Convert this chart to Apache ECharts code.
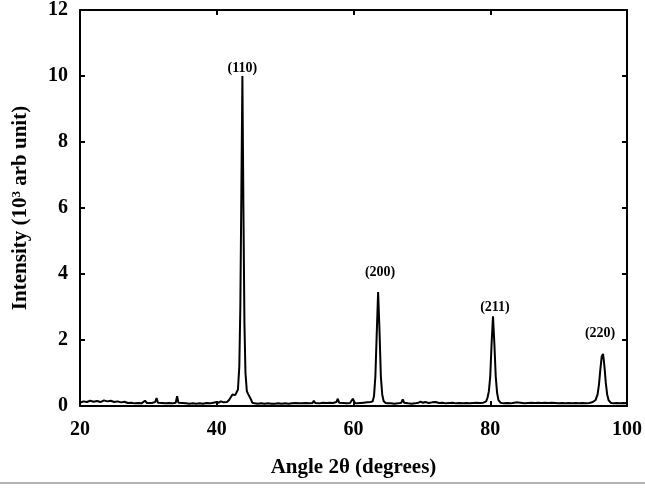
<!DOCTYPE html>
<html>
<head>
	<meta charset="UTF-8">
	<title>XRD pattern</title>
	<script src="https://cdn.jsdelivr.net/npm/echarts@6/dist/echarts.min.js"></script>
	<style>
		html, body { margin: 0; padding: 0; background: #fff; }
		#xrd-chart { width: 645px; height: 489px; }
	</style>
</head>
<body>
<div id="xrd-chart"></div>
<script type="text/javascript">
	// 2theta (degrees)
	var angles = [
		20.0, 20.5, 21.0, 21.5, 22.0, 22.5, 23.0, 23.5, 24.0, 24.5, 25.0, 25.5, 26.0, 26.5, 27.0, 27.5,
		28.0, 28.5, 29.0, 29.5, 29.8, 30.0, 30.5, 31.0, 31.2, 31.4, 32.0, 32.5, 33.0, 33.5, 34.0, 34.2,
		34.4, 35.0, 35.5, 36.0, 36.5, 37.0, 37.5, 38.0, 38.5, 39.0, 39.5, 40.0, 40.3, 40.6, 41.0, 41.5,
		41.8, 42.0, 42.3, 42.5, 42.7, 42.9, 43.1, 43.3, 43.45, 43.6, 43.75, 43.9, 44.05, 44.2, 44.4, 44.6,
		44.8, 45.0, 45.2, 45.5, 46.0, 46.5, 47.0, 47.5, 48.0, 48.5, 49.0, 49.5, 50.0, 50.5, 51.0, 51.5,
		52.0, 52.5, 53.0, 53.5, 54.0, 54.2, 54.4, 55.0, 55.5, 56.0, 56.5, 57.0, 57.5, 57.7, 57.9, 58.5,
		59.0, 59.5, 59.9, 60.2, 60.5, 61.0, 61.5, 62.0, 62.2, 62.5, 62.8, 63.0, 63.2, 63.4, 63.6, 63.8,
		64.0, 64.2, 64.4, 64.7, 65.0, 65.5, 66.0, 66.5, 67.0, 67.2, 67.4, 68.0, 68.5, 69.0, 69.5, 69.8,
		70.2, 70.5, 71.0, 71.5, 72.0, 72.5, 73.0, 73.5, 74.0, 74.5, 75.0, 75.5, 76.0, 76.5, 77.0, 77.5,
		78.0, 78.5, 79.0, 79.4, 79.6, 79.8, 80.0, 80.2, 80.4, 80.6, 80.8, 81.0, 81.2, 81.5, 82.0, 82.5,
		83.0, 83.5, 84.0, 84.2, 84.4, 85.0, 85.5, 86.0, 86.5, 87.0, 87.5, 88.0, 88.5, 89.0, 89.5, 90.0,
		90.5, 91.0, 91.5, 92.0, 92.5, 93.0, 93.5, 94.0, 94.5, 95.0, 95.4, 95.7, 95.9, 96.1, 96.3, 96.5,
		96.7, 96.9, 97.1, 97.3, 97.6, 98.0, 98.5, 99.0, 99.5, 100.0
	];
	// intensity (10^3 arb unit)
	var intensity = [
		0.10, 0.14, 0.12, 0.16, 0.13, 0.15, 0.12, 0.17, 0.14, 0.16, 0.12, 0.14, 0.11, 0.13, 0.09, 0.10,
		0.08, 0.09, 0.08, 0.16, 0.09, 0.10, 0.09, 0.12, 0.24, 0.10, 0.09, 0.08, 0.09, 0.08, 0.10, 0.30,
		0.10, 0.09, 0.08, 0.07, 0.08, 0.07, 0.08, 0.07, 0.09, 0.08, 0.10, 0.12, 0.10, 0.14, 0.11, 0.12,
		0.18, 0.22, 0.35, 0.40, 0.33, 0.38, 0.50, 1.2, 3.0, 6.5, 10.0, 6.0, 2.5, 1.0, 0.45, 0.36,
		0.40, 0.20, 0.10, 0.08, 0.07, 0.08, 0.07, 0.08, 0.07, 0.07, 0.08, 0.07, 0.08, 0.07, 0.08, 0.09,
		0.08, 0.08, 0.09, 0.08, 0.09, 0.16, 0.09, 0.08, 0.10, 0.09, 0.10, 0.09, 0.12, 0.22, 0.10, 0.09,
		0.08, 0.09, 0.22, 0.09, 0.08, 0.09, 0.10, 0.11, 0.17, 0.12, 0.14, 0.30, 0.9, 2.2, 3.45, 2.3,
		0.9, 0.35, 0.15, 0.09, 0.08, 0.08, 0.07, 0.08, 0.10, 0.20, 0.10, 0.08, 0.07, 0.08, 0.10, 0.13,
		0.10, 0.12, 0.09, 0.11, 0.12, 0.09, 0.10, 0.08, 0.09, 0.10, 0.08, 0.09, 0.08, 0.09, 0.08, 0.09,
		0.10, 0.09, 0.10, 0.14, 0.25, 0.45, 0.9, 1.9, 2.72, 1.9, 0.9, 0.40, 0.18, 0.10, 0.08, 0.09,
		0.08, 0.10, 0.11, 0.17, 0.10, 0.08, 0.09, 0.10, 0.09, 0.10, 0.09, 0.10, 0.09, 0.10, 0.09, 0.08,
		0.09, 0.08, 0.09, 0.08, 0.09, 0.08, 0.09, 0.08, 0.09, 0.12, 0.18, 0.35, 0.65, 1.1, 1.5, 1.58,
		1.2, 0.7, 0.35, 0.18, 0.10, 0.08, 0.09, 0.08, 0.09, 0.08
	];
	// peak labels (Miller indices)
	var peakNames = ['(110)', '(200)', '(211)', '(220)'];
	var peakAngles = [43.75, 63.6, 80.4, 96.5];
	var peakHeights = [10.0, 3.45, 2.72, 1.58];

	var xTicks = [20, 40, 60, 80, 100];
	var yTicks = [0, 2, 4, 6, 8, 10, 12];

	var serif = 'Liberation Serif';
	var labelGap = [1, 13, 2, 13];
	var labelShift = [0, 2, 2, -3];

	var lineData = [];
	for (var i = 0; i < angles.length; i++) {
		lineData.push([angles[i], intensity[i]]);
	}
	var peakData = [];
	for (var j = 0; j < peakNames.length; j++) {
		peakData.push({
			value: [peakAngles[j], peakHeights[j]],
			label: { distance: labelGap[j], offset: [labelShift[j], 0] }
		});
	}

	var xrdchart = echarts.init(document.getElementById('xrd-chart'));

	// top / right axes only draw the frame and the inner ticks
	function frameAxis(pos, ticks) {
		return {
			type: 'value',
			position: pos,
			min: ticks[0],
			max: ticks[ticks.length - 1],
			interval: ticks[1] - ticks[0],
			axisLine: { show: true, onZero: false, lineStyle: { color: '#000', width: 2 } },
			axisTick: { show: true, inside: true, length: 5, lineStyle: { color: '#000', width: 2 } },
			axisLabel: { show: false },
			splitLine: { show: false }
		};
	}

	var xrdoption = {
		animation: false,
		backgroundColor: '#fff',
		grid: {
			left: 80,
			right: 17,
			top: 10,
			bottom: 83
		},
		xAxis: [{
			type: 'value',
			position: 'bottom',
			min: xTicks[0],
			max: xTicks[xTicks.length - 1],
			interval: xTicks[1] - xTicks[0],
			name: 'Angle 2θ (degrees)',
			nameLocation: 'middle',
			nameGap: 51,
			nameTextStyle: { fontFamily: serif, fontWeight: 'bold', fontSize: 21, color: '#000' },
			axisLine: { show: true, onZero: false, lineStyle: { color: '#000', width: 2 } },
			axisTick: { show: true, inside: true, length: 5, lineStyle: { color: '#000', width: 2 } },
			axisLabel: { margin: 14, fontFamily: serif, fontWeight: 'bold', fontSize: 20, color: '#000' },
			splitLine: { show: false }
		}, frameAxis('top', xTicks)],
		yAxis: [{
			type: 'value',
			position: 'left',
			min: yTicks[0],
			max: yTicks[yTicks.length - 1],
			interval: yTicks[1] - yTicks[0],
			name: 'Intensity (10{sup|3} arb unit)',
			nameLocation: 'middle',
			nameGap: 48,
			nameTextStyle: {
				fontFamily: serif, fontWeight: 'bold', fontSize: 21, color: '#000',
				rich: {
					sup: { fontFamily: serif, fontWeight: 'bold', fontSize: 13, color: '#000', verticalAlign: 'top', lineHeight: 22 }
				}
			},
			axisLine: { show: true, onZero: false, lineStyle: { color: '#000', width: 2 } },
			axisTick: { show: true, inside: true, length: 5, lineStyle: { color: '#000', width: 2 } },
			axisLabel: { margin: 12, fontFamily: serif, fontWeight: 'bold', fontSize: 20, color: '#000' },
			splitLine: { show: false }
		}, frameAxis('right', yTicks)],
		series: [
			{
				name: 'XRD',
				type: 'line',
				data: lineData,
				showSymbol: false,
				symbol: 'none',
				lineStyle: { color: '#000', width: 2 },
				silent: true
			},
			{
				name: 'peaks',
				type: 'scatter',
				data: peakData,
				symbolSize: 0,
				silent: true,
				itemStyle: { opacity: 1, color: '#000' },
				label: {
					show: true,
					position: 'top',
					formatter: function (p) { return peakNames[p.dataIndex]; },
					fontFamily: serif,
					fontWeight: 'bold',
					fontSize: 14,
					color: '#000',
					opacity: 1
				}
			}
		],
		graphic: [{
			type: 'line',
			shape: { x1: 0, y1: 483, x2: 645, y2: 483 },
			style: { stroke: '#b3b3b3', lineWidth: 2 }
		}]
	};

	xrdchart.setOption(xrdoption);
</script>
</body>
</html>
